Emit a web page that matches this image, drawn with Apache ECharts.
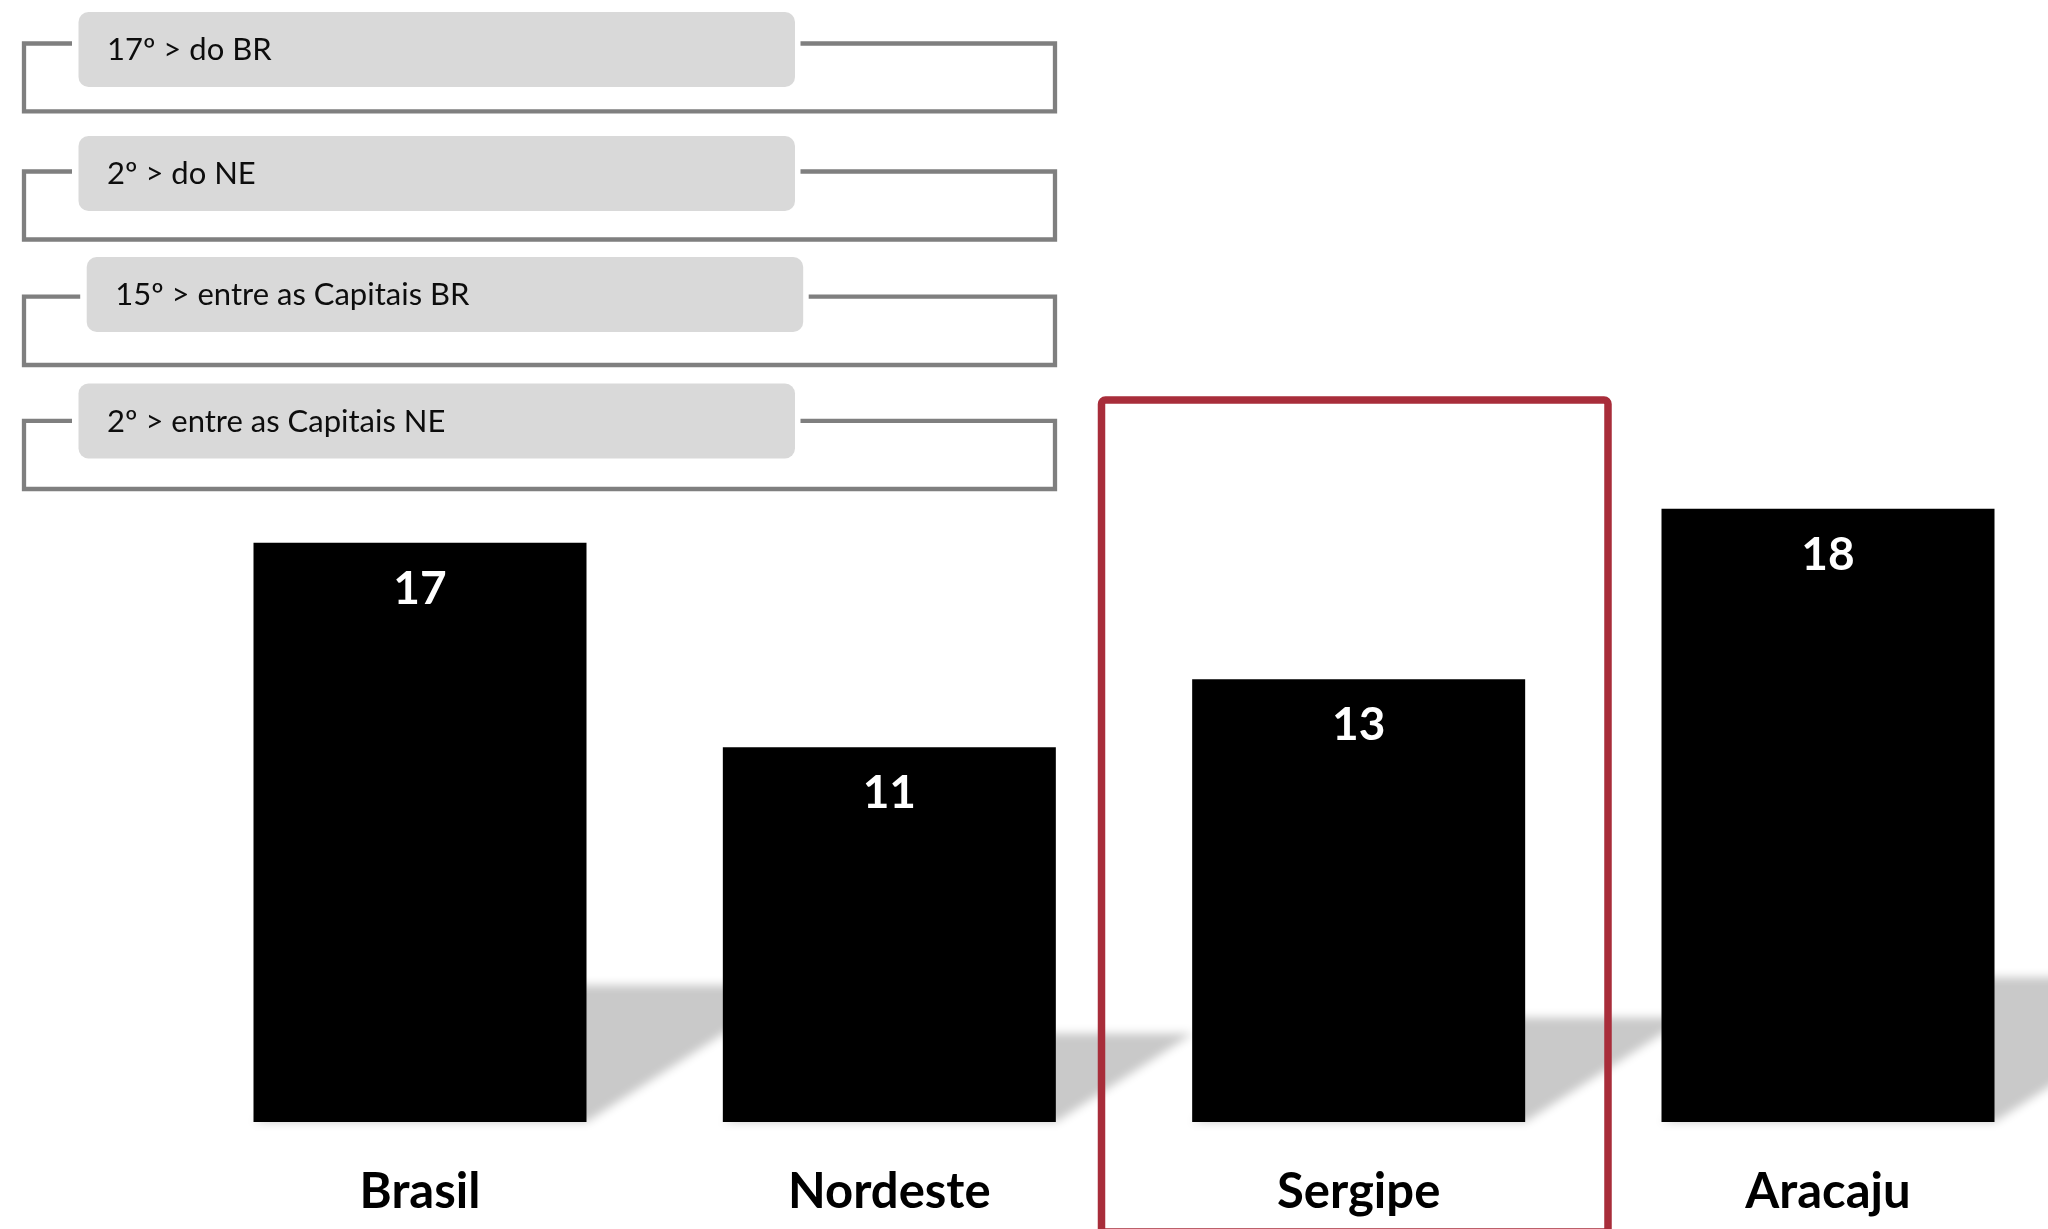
<!DOCTYPE html>
<html>
<head>
<meta charset="utf-8">
<title>Ranking</title>
<script src="https://cdn.jsdelivr.net/npm/echarts@6/dist/echarts.min.js"></script>
<style>
  html, body { margin: 0; padding: 0; background: #ffffff; }
  #chart { width: 2048px; height: 1229px; }
</style>
</head>
<body>
<div id="chart"></div>
<script>
// Chart data
const categories = ['Brasil', 'Nordeste', 'Sergipe', 'Aracaju'];
const values = [17, 11, 13, 18];
const rankLabels = ['17º > do BR', '2º > do NE', '15º > entre as Capitais BR', '2º > entre as Capitais NE'];

const FONT = 'Lato, "Open Sans", sans-serif';
const BAR_W = 333;
const SHADOW_H = 0.236;   // floor shadow height relative to bar height
const SHADOW_SLANT = 1.55; // horizontal run per vertical unit of the shadow
const OFF = 5000;         // draw shape off-canvas, keep only its blurred shadow

const chart = echarts.init(document.getElementById('chart'), null, { renderer: 'canvas' });

// Bracketed ranking boxes at the top left
const boxes = [
  { stub: 43.5, bottom: 111.3, top: 12,    x: 78.5 },
  { stub: 171.5, bottom: 239.5, top: 136,  x: 78.5 },
  { stub: 296.7, bottom: 365,  top: 257,   x: 86.7 },
  { stub: 420.8, bottom: 489,  top: 383.5, x: 78.5 }
];
const graphics = [];
rankLabels.forEach(function (txt, i) {
  const b = boxes[i];
  const boxW = 716.5;
  graphics.push({
    type: 'polyline',
    shape: { points: [[b.x - 6.5, b.stub], [24, b.stub], [24, b.bottom], [1055, b.bottom], [1055, b.stub], [b.x + boxW + 5.5, b.stub]] },
    style: { stroke: '#7f7f7f', lineWidth: 4.3, fill: null },
    z: 10
  });
  graphics.push({
    type: 'rect',
    shape: { x: b.x, y: b.top, width: boxW, height: 75, r: 10 },
    style: { fill: '#d9d9d9' },
    z: 11
  });
  graphics.push({
    type: 'text',
    style: {
      text: txt, x: b.x + 28.5, y: b.top + 38,
      fill: '#0d0d0d', fontSize: 31, fontFamily: FONT,
      verticalAlign: 'middle', align: 'left'
    },
    z: 12
  });
});
// Highlight frame around Sergipe
graphics.push({
  type: 'rect',
  shape: { x: 1101.5, y: 400, width: 506.5, height: 832, r: [4, 4, 0, 0] },
  style: { fill: null, stroke: '#a82d3a', lineWidth: 7.5 },
  z: 100
});

function renderShadow(params, api) {
  const base = api.coord([api.value(0), 0]);
  const top = api.coord([api.value(0), api.value(1)]);
  const h = base[1] - top[1];
  const sh = h * SHADOW_H;
  const d = sh * SHADOW_SLANT;
  const xl = base[0] - BAR_W / 2;
  const xr = base[0] + BAR_W / 2;
  const y0 = base[1];
  return {
    type: 'polygon',
    x: -OFF,
    shape: { points: [[xl, y0], [xr, y0], [xr + d, y0 - sh], [xl + d, y0 - sh]] },
    style: {
      fill: '#cbcbcb',
      shadowBlur: 10,
      shadowColor: '#c9c9c9',
      shadowOffsetX: OFF,
      shadowOffsetY: 0
    }
  };
}

chart.setOption({
  animation: false,
  backgroundColor: '#ffffff',
  // first and last categories sit on the grid edges; bars overhang it
  grid: { left: 420, width: 1408, top: 100, height: 1022, containLabel: false },
  xAxis: {
    type: 'category',
    data: categories,
    boundaryGap: false,
    axisLine: { show: false },
    axisTick: { show: false },
    splitLine: { show: false },
    axisLabel: {
      color: '#000000', fontSize: 49, fontWeight: 'bold', fontFamily: FONT,
      margin: 46, interval: 0
    }
  },
  yAxis: { type: 'value', min: 0, max: 30, show: false, splitLine: { show: false } },
  series: [
    {
      type: 'custom',
      name: 'sombra',
      clip: false,
      silent: true,
      z: 1,
      renderItem: renderShadow,
      encode: { x: 0, y: 1 },
      data: values.map(function (v, i) { return [i, v]; })
    },
    {
      type: 'bar',
      z: 2,
      clip: false,
      barWidth: BAR_W,
      data: values,
      itemStyle: { color: '#000000' },
      label: {
        show: true,
        position: 'insideTop',
        distance: 23,
        color: '#ffffff',
        fontSize: 46,
        fontWeight: 'bold',
        fontFamily: FONT
      }
    }
  ],
  graphic: graphics
});
</script>
</body>
</html>
